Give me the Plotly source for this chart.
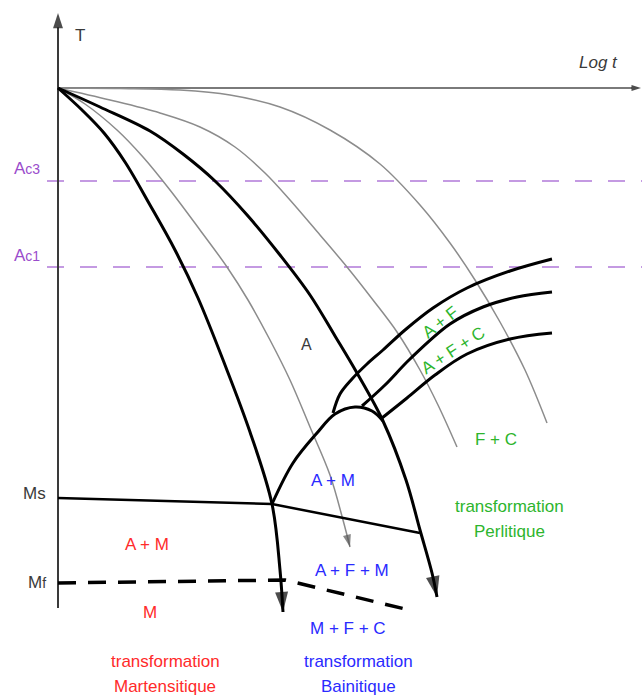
import plotly.graph_objects as go

W, H = 642, 697

# ---- axes (diagram units = pixels of the drawing) ----
t_axis_x = [58, 58]
t_axis_y = [608, 13]
logt_axis_x = [58, 641]
logt_axis_y = [88, 88]

# ---- critical temperature levels ----
ac_levels_y = [181, 267]
ac_levels_x = [47, 642]

# ---- cooling curves (from austenitising point) ----
c1_x = [58, 82, 104, 125, 150, 175, 198, 225, 250, 272, 280, 283]
c1_y = [88, 110, 133, 162, 205, 250, 298, 365, 432, 504, 570, 612]

c2_x = [58, 85, 117, 143, 170, 200, 227, 248, 270, 290, 310, 330, 343, 350]
c2_y = [88, 104, 130, 157, 190, 230, 267, 300, 340, 380, 427, 475, 520, 547]

c3_x = [58, 100, 150, 183, 215, 248, 280, 310, 335, 357, 383, 406, 420, 432, 437]
c3_y = [88, 107, 131, 154, 181, 216, 255, 295, 336, 373, 421, 480, 530, 573, 597]

c4_x = [58, 110, 160, 200, 235, 265, 290, 320, 347, 373, 397, 420, 438, 457]
c4_y = [88, 100, 113, 127, 147, 173, 200, 235, 267, 300, 332, 370, 405, 447]

c5_x = [58, 120, 180, 230, 280, 330, 380, 420, 450, 475, 500, 525, 547]
c5_y = [88, 88.5, 90, 95, 107, 130, 164, 205, 243, 280, 322, 370, 423]

# ---- transformation boundaries ----
nose_x = [272, 293, 317, 335, 355, 372, 383]
nose_y = [504, 463, 433, 414, 407, 411, 421]

ps_x = [333, 340, 352, 367, 383, 405, 433, 467, 510, 552]
ps_y = [413, 394, 379, 364, 350, 330, 308, 288, 271, 259]

pm_x = [362, 385, 410, 450, 483, 517, 552]
pm_y = [406, 385, 359, 324, 307, 297, 292]

pf_x = [382, 407, 435, 467, 510, 552]
pf_y = [418, 398, 375, 354, 339, 333]

ms_x = [58, 272, 420]
ms_y = [498, 504, 533]

mf_x = [58, 285, 405]
mf_y = [583, 580, 609]

# ---- labels ----
RED, BLUE, GREEN, PURPLE, GREY = "#ff2a2a", "#2a2aff", "#2db52d", "#9a4ccc", "#3a3a3a"
labels = [
    # text, x, y, color, size, angle
    ("T", 80, 35, GREY, 17, 0),
    ("<i>Log t</i>", 598, 62, GREY, 17, 0),
    ("A<span style='font-size:14px'>c3</span>", 27, 168, PURPLE, 17, 0),
    ("A<span style='font-size:14px'>c1</span>", 27, 255, PURPLE, 17, 0),
    ("Ms", 34, 493, GREY, 17, 0),
    ("M<span style='font-size:14px'>f</span>", 37, 582, GREY, 17, 0),
    ("A", 306, 344, GREY, 16, 0),
    ("A + M", 333, 480, BLUE, 17, 0),
    ("A + F + M", 352, 570, BLUE, 17, 0),
    ("M + F + C", 348, 628, BLUE, 17, 0),
    ("transformation", 358, 661, BLUE, 17, 0),
    ("Bainitique", 358, 686, BLUE, 17, 0),
    ("A + M", 147, 544, RED, 17, 0),
    ("M", 150, 612, RED, 17, 0),
    ("transformation", 165, 661, RED, 17, 0),
    ("Martensitique", 165, 686, RED, 17, 0),
    ("F + C", 496, 439, GREEN, 17, 0),
    ("transformation", 509, 506, GREEN, 17, 0),
    ("Perlitique", 509, 531, GREEN, 17, 0),
    ("A + F", 440, 322, GREEN, 17, -38),
    ("A + F + C", 453, 350, GREEN, 17, -33),
]

fig = go.Figure()


def line(x, y, color, width, dash="solid", shape="spline", arrow=0, arrow_color=None):
    n = len(x)
    kw = dict(mode="lines")
    if arrow:
        kw = dict(mode="lines+markers",
                  marker=dict(symbol="arrow", angleref="previous",
                              size=[0] * (n - 1) + [arrow], color=arrow_color or color,
                              line=dict(width=0)))
    fig.add_trace(go.Scatter(x=x, y=y, line=dict(color=color, width=width, dash=dash,
                                                 shape=shape, smoothing=1.0),
                             hoverinfo="skip", showlegend=False, **kw))


# dashed Ac levels
for yv in ac_levels_y:
    line(ac_levels_x, [yv, yv], "#c49ae2", 2, dash="17px,16px", shape="linear")

# axes
line(t_axis_x, t_axis_y, "#3a3a3a", 2, shape="linear", arrow=16, arrow_color="black")
line(logt_axis_x, logt_axis_y, "#7a7a7a", 2, shape="linear", arrow=10, arrow_color="black")

# thin cooling curves
line(c5_x, c5_y, "#8c8c8c", 1.5)
line(c4_x, c4_y, "#8c8c8c", 1.5)
line(c2_x, c2_y, "#8c8c8c", 1.5, arrow=13, arrow_color="#555555")

# thick curves
line(c1_x, c1_y, "black", 3, arrow=21)
line(c3_x, c3_y, "black", 3, arrow=22)
line(nose_x, nose_y, "black", 3)
line(ps_x, ps_y, "black", 3)
line(pm_x, pm_y, "black", 3)
line(pf_x, pf_y, "black", 3)
line(ms_x, ms_y, "black", 2.5, shape="linear")
line(mf_x, mf_y, "black", 3.5, dash="18px,12px", shape="linear")

for txt, x, y, col, size, ang in labels:
    fig.add_annotation(x=x, y=y, xref="x", yref="y", text=txt, showarrow=False,
                       textangle=ang, xanchor="center", yanchor="middle",
                       font=dict(family="Liberation Sans, Arial, sans-serif", size=size, color=col))

fig.update_layout(
    width=W, height=H, margin=dict(l=0, r=0, t=0, b=0),
    paper_bgcolor="white", plot_bgcolor="white",
    xaxis=dict(range=[0, W], visible=False, fixedrange=True),
    yaxis=dict(range=[H, 0], visible=False, fixedrange=True),
    showlegend=False,
)

fig.write_html("out.html", config={"displayModeBar": False, "staticPlot": True},
               post_script="document.body.style.margin='0';document.body.style.overflow='hidden';")
